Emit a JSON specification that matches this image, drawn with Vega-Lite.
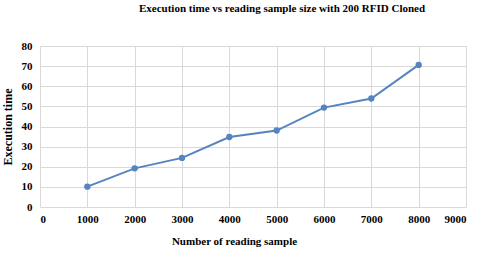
{
  "$schema": "https://vega.github.io/schema/vega-lite/v6.json",
  "autosize": "none",
  "width": 426,
  "height": 161,
  "padding": {"left": 40, "top": 46, "right": 14, "bottom": 48},
  "background": "white",
  "config": {"view": {"stroke": null}, "font": "Liberation Serif"},
  "title": {
    "text": "Execution time vs reading sample size with 200 RFID Cloned",
    "font": "Liberation Serif",
    "fontSize": 11,
    "fontWeight": "bold",
    "color": "#000000",
    "anchor": "middle",
    "dx": 29,
    "offset": 26
  },
  "data": {
    "values": [
      {"samples": 1000, "time": 10.1},
      {"samples": 2000, "time": 19.2},
      {"samples": 3000, "time": 24.4},
      {"samples": 4000, "time": 34.8},
      {"samples": 5000, "time": 38.0},
      {"samples": 6000, "time": 49.4},
      {"samples": 7000, "time": 53.9},
      {"samples": 8000, "time": 70.6}
    ]
  },
  "layer": [
    {
      "mark": {"type": "line", "color": "#5584C0", "strokeWidth": 2},
      "encoding": {
        "x": {"field": "samples", "type": "quantitative"},
        "y": {"field": "time", "type": "quantitative"}
      }
    },
    {
      "mark": {"type": "point", "filled": true, "color": "#5584C0", "size": 40, "opacity": 1},
      "encoding": {
        "x": {"field": "samples", "type": "quantitative"},
        "y": {"field": "time", "type": "quantitative"}
      }
    }
  ],
  "encoding": {
    "x": {
      "field": "samples",
      "type": "quantitative",
      "scale": {"domain": [0, 9000], "nice": false},
      "axis": {
        "title": "Number of reading sample",
        "values": [0, 1000, 2000, 3000, 4000, 5000, 6000, 7000, 8000, 9000],
        "format": "d",
        "grid": true,
        "gridColor": "#d9d9d9",
        "domain": false,
        "ticks": false,
        "labelFont": "Liberation Serif",
        "labelFontSize": 11,
        "labelFontWeight": "bold",
        "labelColor": "#000000",
        "labelPadding": 6,
        "titleFont": "Liberation Serif",
        "titleFontSize": 11,
        "titleFontWeight": "bold",
        "titleColor": "#000000",
        "titleX": 194,
        "titleY": 28
      }
    },
    "y": {
      "field": "time",
      "type": "quantitative",
      "scale": {"domain": [0, 80], "nice": false},
      "axis": {
        "title": "Execution time",
        "values": [0, 10, 20, 30, 40, 50, 60, 70, 80],
        "grid": true,
        "gridColor": "#d9d9d9",
        "domain": false,
        "ticks": false,
        "labelFont": "Liberation Serif",
        "labelFontSize": 11,
        "labelFontWeight": "bold",
        "labelColor": "#000000",
        "labelPadding": 8,
        "titleFont": "Liberation Serif",
        "titleFontSize": 12,
        "titleFontWeight": "bold",
        "titleColor": "#000000",
        "titleX": -26
      }
    }
  }
}
